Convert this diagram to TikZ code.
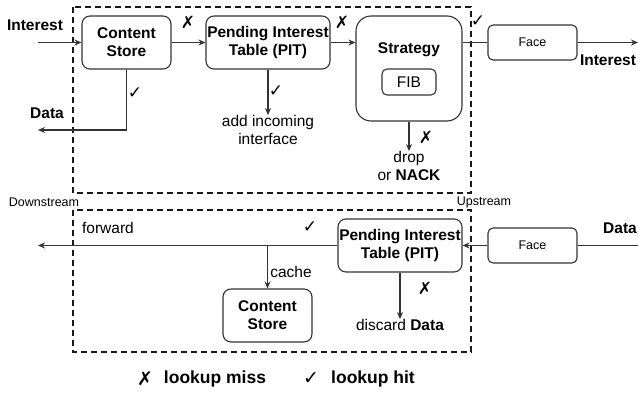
\documentclass[tikz,border=0pt]{standalone}
\usepackage{fontspec}
\setmainfont{Liberation Sans}
\newfontfamily\symfont{DejaVu Sans}
\usetikzlibrary{arrows.meta}
\definecolor{ln}{HTML}{333333}
\tikzset{
  box/.style={draw=ln, line width=1.1pt, rounded corners=8pt, align=center, inner sep=0pt, font=\fontsize{15.5}{18}\selectfont\bfseries},
  facebox/.style={draw=ln, line width=1.1pt, rounded corners=5pt, minimum width=89pt, minimum height=35pt, inner sep=0pt, font=\fontsize{12.5}{14}\selectfont},
  arr/.style={draw=ln, line width=1.1pt, -{Stealth[length=7pt,width=6pt]}},
  plain/.style={draw=ln, line width=1.1pt},
  dashbox/.style={draw=black!90, line width=1.7pt, dash pattern=on 6pt off 4pt},
  lbl/.style={inner sep=0pt, align=center, font=\fontsize{15.5}{18}\selectfont},
  blbl/.style={lbl, font=\fontsize{15.5}{18}\selectfont\bfseries},
  small/.style={inner sep=0pt, font=\fontsize{12.5}{14}\selectfont},
  tickmark/.style={inner sep=0pt, font=\fontsize{17}{19}\selectfont\symfont},
}
\begin{document}
\begin{tikzpicture}[x=1pt,y=-1pt]
\useasboundingbox (0,0) rectangle (638,394);
% dashed frames
\draw[dashbox] (73,7) rectangle (471,193);
\draw[dashbox] (73,210) rectangle (471,352);
% top row
\node[box, minimum width=89pt, minimum height=53pt] (cs1) at (126.5,42.5) {Content\\Store};
\node[box, minimum width=124pt, minimum height=53pt] (pit1) at (268,42.5) {Pending Interest\\Table (PIT)};
\node[box, rounded corners=15pt, minimum width=106pt, minimum height=105pt] (strat) at (409,68.5) {};
\node[blbl] (stratlbl) at (409,50) {Strategy};
\node[draw=ln, line width=1.1pt, rounded corners=5pt, minimum width=54pt, minimum height=26pt, inner sep=0pt, font=\fontsize{15.5}{18}\selectfont] (fib) at (409,82) {FIB};
\node[facebox] (face1) at (532.5,42.5) {Face};
\coordinate (intin) at (38,42.5);
\coordinate (dataout) at (38,130);
\coordinate (intout) at (638,42.5);
\node[lbl] (addinc) at (268,130) {add incoming\\interface};
\node[lbl] (drop) at (409,166) {drop\\or \textbf{NACK}};
\node[blbl] (lint) at (35,25) {Interest};
\node[blbl] (ldata) at (47,113) {Data};
\node[blbl] (rint) at (608,60) {Interest};
\draw[arr] (intin) -- (cs1.west);
\draw[arr] (cs1.east) -- (pit1.west);
\draw[arr] (cs1.south) |- (dataout);
\draw[arr] (pit1.south) -- (addinc.north);
\draw[arr] (pit1.east) -- (pit1.east -| strat.west);
\draw[plain] (strat.east |- face1.west) -- (face1.west);
\draw[arr] (face1.east) -- (intout);
\draw[arr] (strat.south) -- (drop.north);
\node[tickmark] (m1) at (135,93) {✓};
\node[tickmark] (m2) at (188,22) {✗};
\node[tickmark] (m3) at (276,91) {✓};
\node[tickmark] (m4) at (342,22) {✗};
\node[tickmark] (m5) at (478,21) {✓};
\node[tickmark] (m6) at (426,137) {✗};
% labels between frames
\node[small] (down) at (44,202) {Downstream};
\node[small] (up) at (484,202) {Upstream};
% bottom row
\node[box, minimum width=124pt, minimum height=53pt] (pit2) at (400,245.5) {Pending Interest\\Table (PIT)};
\node[facebox] (face2) at (532.5,245.5) {Face};
\node[box, minimum width=89pt, minimum height=53pt] (cs2) at (267.5,315.5) {Content\\Store};
\coordinate (datain) at (638,245.5);
\coordinate (fwdout) at (38,245.5);
\node[lbl] (discard) at (400,325) {discard \textbf{Data}};
\node[blbl] (rdata) at (620,228) {Data};
\node[lbl] (fwd) at (108,228) {forward};
\node[lbl] (cache) at (291,272) {cache};
\draw[plain] (datain) -- (face2.east);
\draw[arr] (face2.west) -- (pit2.east);
\draw[arr] (pit2.west) -- (fwdout);
\draw[arr] (cs2.north |- pit2.west) -- (cs2.north);
\draw[arr] (pit2.south) -- (discard.north);
\node[tickmark] (m7) at (310,227) {✓};
\node[tickmark] (m8) at (425,288) {✗};
% legend
\node[tickmark, font=\fontsize{19}{21}\selectfont\symfont] (lgx) at (145,379) {✗};
\node[blbl, font=\fontsize{17.5}{20}\selectfont\bfseries] (lgmiss) at (215,379) {lookup miss};
\node[tickmark, font=\fontsize{19}{21}\selectfont\symfont] (lgc) at (311,379) {✓};
\node[blbl, font=\fontsize{17.5}{20}\selectfont\bfseries] (lghit) at (373,379) {lookup hit};
\end{tikzpicture}
\end{document}
